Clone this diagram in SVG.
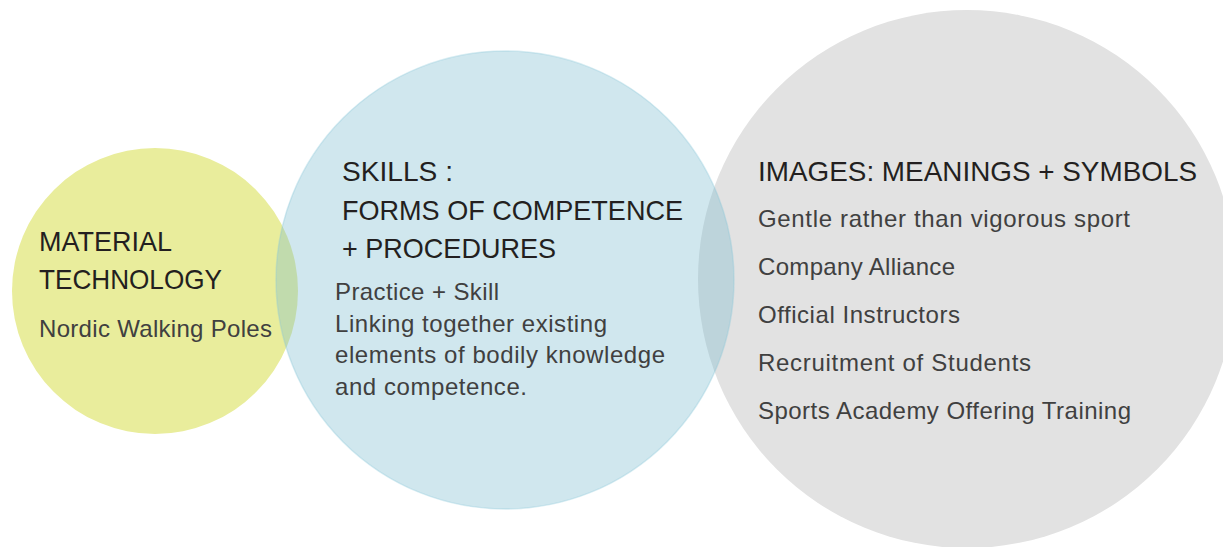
<svg xmlns="http://www.w3.org/2000/svg" width="1223" height="547" viewBox="0 0 1223 547">
<style>
.head{font-family:"Liberation Sans",Arial,sans-serif;font-size:28px;fill:#231f20}
.body{font-family:"Liberation Sans",Arial,sans-serif;font-size:24px;fill:#404040}
</style>
<rect width="1223" height="547" fill="#ffffff"/>
<g id="images">
<circle cx="967" cy="279" r="269" fill="#e2e2e2"/>
</g>
<g id="material">
<circle cx="155" cy="291" r="143" fill="#e9ed9c"/>
</g>
<g id="skills">
<circle cx="505" cy="280" r="229" fill="rgb(120,185,205)" fill-opacity="0.35" stroke="rgb(140,200,218)" stroke-opacity="0.35" stroke-width="1.5"/>
</g>
<g id="material-text">
<text class="head" x="39" y="251" textLength="133" lengthAdjust="spacingAndGlyphs">MATERIAL</text>
<text class="head" x="39" y="289" textLength="183" lengthAdjust="spacingAndGlyphs">TECHNOLOGY</text>
<text class="body" x="39" y="337" textLength="233">Nordic Walking Poles</text>
</g>
<g id="skills-text">
<text class="head" x="342" y="181" textLength="111" lengthAdjust="spacingAndGlyphs">SKILLS :</text>
<text class="head" x="342" y="220" textLength="341" lengthAdjust="spacingAndGlyphs">FORMS OF COMPETENCE</text>
<text class="head" x="342" y="258" textLength="214" lengthAdjust="spacingAndGlyphs">+ PROCEDURES</text>
<text class="body" x="335" y="300" textLength="164">Practice + Skill</text>
<text class="body" x="335" y="332" textLength="272">Linking together existing</text>
<text class="body" x="335" y="363" textLength="330">elements of bodily knowledge</text>
<text class="body" x="335" y="395" textLength="192">and competence.</text>
</g>
<g id="images-text">
<text class="head" x="758" y="181" textLength="439" lengthAdjust="spacingAndGlyphs">IMAGES: MEANINGS + SYMBOLS</text>
<text class="body" x="758" y="227" textLength="372">Gentle rather than vigorous sport</text>
<text class="body" x="758" y="275" textLength="197">Company Alliance</text>
<text class="body" x="758" y="323" textLength="202">Official Instructors</text>
<text class="body" x="758" y="371" textLength="273">Recruitment of Students</text>
<text class="body" x="758" y="419" textLength="373">Sports Academy Offering Training</text>
</g>
<g id="connectors"></g>
</svg>
